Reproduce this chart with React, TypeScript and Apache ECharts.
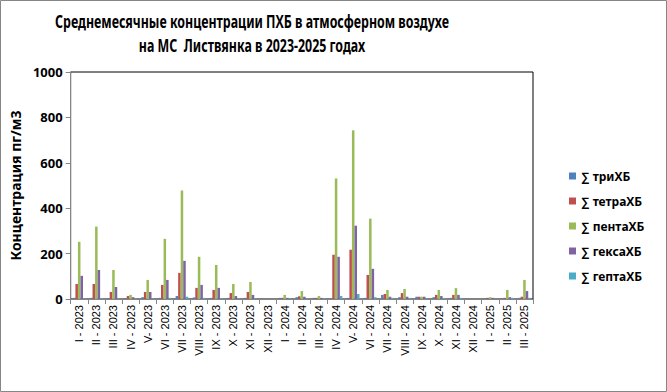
import React, { useEffect, useRef } from "react";
import * as echarts from "echarts";

const categories = [
  "I - 2023", "II - 2023", "III - 2023", "IV - 2023", "V- 2023", "VI - 2023",
  "VII - 2023", "VIII - 2023", "IX - 2023", "X - 2023", "XI - 2023", "XII - 2023",
  "I - 2024", "II - 2024", "III - 2024", "IV - 2024", "V- 2024", "VI - 2024",
  "VII - 2024", "VIII - 2024", "IX - 2024", "X - 2024", "XI - 2024", "XII - 2024",
  "I - 2025", "II - 2025", "III - 2025",
];

const triHB = [5, 5, 4, 4, 8, 5, 13, 7, 5, 5, 5, 0, 5, 8, 5, 3, 5, 5, 18, 8, 10, 8, 5, 0, 3, 3, 5];
const tetraHB = [66, 66, 31, 13, 31, 62, 115, 49, 40, 26, 31, 0, 5, 12, 5, 195, 217, 106, 22, 26, 10, 18, 18, 0, 5, 5, 10];
const pentaHB = [252, 319, 128, 18, 84, 265, 478, 186, 150, 66, 75, 0, 18, 35, 13, 531, 743, 354, 40, 44, 10, 40, 48, 0, 8, 40, 84];
const geksaHB = [102, 128, 53, 8, 31, 84, 168, 62, 49, 13, 18, 0, 5, 10, 5, 186, 323, 133, 10, 10, 10, 13, 18, 0, 5, 8, 35];
const geptaHB = [3, 3, 3, 3, 3, 5, 10, 5, 3, 3, 3, 0, 3, 3, 3, 13, 22, 8, 5, 5, 3, 5, 5, 0, 2, 5, 5];

const seriesNames = ["∑ триХБ", "∑ тетраХБ", "∑ пентаХБ", "∑ гексаХБ", "∑ гептаХБ"];
const seriesData = [triHB, tetraHB, pentaHB, geksaHB, geptaHB];
const colors = ["#4F81BD", "#C0504D", "#9BBB59", "#8064A2", "#4BACC6"];

const yTicks = { min: 0, max: 1000, interval: 200 };

const FONT = "'Noto Sans', sans-serif";

export default function App() {
  const ref = useRef<HTMLDivElement>(null);
  useEffect(() => {
    if (!ref.current) return;
    const chart = echarts.init(ref.current, null, { renderer: "svg" });
    chart.setOption({
      animation: false,
      backgroundColor: "#ffffff",
      color: colors,
      graphic: [
        {
          type: "rect",
          shape: { x: 0.5, y: 0.5, width: 666, height: 391 },
          style: { fill: "none", stroke: "#868686", lineWidth: 1 },
          silent: true,
        },
        {
          type: "text",
          x: 252,
          y: 21,
          scaleX: 0.73,
          style: {
            text: "Среднемесячные концентрации ПХБ в атмосферном воздухе",
            font: "bold 17px " + FONT,
            fill: "#000",
            textAlign: "center",
            textVerticalAlign: "middle",
          },
        },
        {
          type: "text",
          x: 252,
          y: 45,
          scaleX: 0.73,
          style: {
            text: "на МС  Листвянка в 2023-2025 годах",
            font: "bold 17px " + FONT,
            fill: "#000",
            textAlign: "center",
            textVerticalAlign: "middle",
          },
        },
      ],
      legend: {
        orient: "vertical",
        left: 564,
        top: 165,
        itemWidth: 7,
        itemHeight: 7,
        itemGap: 13,
        icon: "rect",
        textStyle: { fontFamily: FONT, fontWeight: "bold", fontSize: 12, color: "#000" },
        data: seriesNames,
      },
      grid: { left: 68, right: 134, top: 72, bottom: 93, show: true, borderColor: "#000", borderWidth: 1 },
      xAxis: {
        type: "category",
        data: categories,
        axisLine: { lineStyle: { color: "#868686" } },
        axisTick: { show: true, length: 5, lineStyle: { color: "#868686" } },
        axisLabel: {
          rotate: 90,
          interval: 0,
          fontSize: 11,
          fontFamily: "'Liberation Sans', Arial, sans-serif",
          color: "#000",
          margin: 6,
        },
      },
      yAxis: {
        type: "value",
        min: yTicks.min,
        max: yTicks.max,
        interval: yTicks.interval,
        name: "Концентрация пг/м3",
        nameLocation: "middle",
        nameGap: 45,
        nameRotate: 90,
        nameTextStyle: { fontFamily: FONT, fontWeight: "bold", fontSize: 14, color: "#000" },
        axisLine: { show: true, lineStyle: { color: "#868686" } },
        axisTick: { show: true, length: 5, lineStyle: { color: "#868686" } },
        splitLine: { show: false },
        axisLabel: {
          fontFamily: FONT,
          fontWeight: "bold",
          fontSize: 13,
          color: "#000",
          margin: 8,
          formatter: (v: number) => String(v),
        },
      },
      series: seriesNames.map((name, i) => ({
        name,
        type: "bar",
        data: seriesData[i],
        barGap: "0%",
        barCategoryGap: "26%",
      })),
    });
    return () => chart.dispose();
  }, []);
  return (
    <div
      ref={ref}
      style={{ position: "fixed", left: 0, top: 0, width: 667, height: 392 }}
    />
  );
}
